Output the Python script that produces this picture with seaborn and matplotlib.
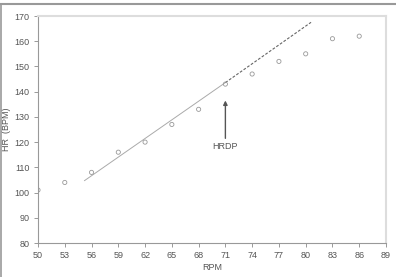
import matplotlib
matplotlib.use("Agg")
import matplotlib.pyplot as plt
import seaborn as sns
import numpy as np
import pandas as pd
from matplotlib.lines import Line2D

sns.set_style("white")
plt.rcParams['font.family'] = ['Liberation Sans', 'DejaVu Sans']

rpm = [50, 53, 56, 59, 62, 65, 68, 71, 74, 77, 80, 83, 86]
hr = [101, 104, 108, 116, 120, 127, 133, 143, 147, 152, 155, 161, 162]
fit_solid_x = [55.2, 71.0]
fit_solid_y = [104.7, 143.6]
fit_dash_x = [71.0, 80.6]
fit_dash_y = [143.6, 167.5]
x_ticks = [50, 53, 56, 59, 62, 65, 68, 71, 74, 77, 80, 83, 86, 89]
y_ticks = [80, 90, 100, 110, 120, 130, 140, 150, 160, 170]

df = pd.DataFrame({"RPM": rpm, "HR": hr})

fig = plt.figure(figsize=(3.96, 2.77), dpi=100)
ax = fig.add_axes([38/396, 1-243/277, 348/396, 227/277])

sns.scatterplot(data=df, x="RPM", y="HR", ax=ax, marker="o", s=9,
                facecolor="none", edgecolor="#999999", linewidth=0.6, zorder=3)
sns.lineplot(x=fit_solid_x, y=fit_solid_y, ax=ax, color="#aaaaaa", linewidth=0.7)
sns.lineplot(x=fit_dash_x, y=fit_dash_y, ax=ax, color="#666666", linewidth=0.8,
             linestyle=(0, (2.5, 1.5)))

ax.annotate("", xy=(71, 136.5), xytext=(71, 121.5),
            arrowprops=dict(arrowstyle="-|>", color="#555555", lw=1.0,
                            mutation_scale=6, shrinkA=0, shrinkB=0))
ax.text(71, 118.2, "HRDP", ha="center", va="center", fontsize=6.5, color="#555555")

ax.set_xlim(50, 89)
ax.set_ylim(80, 170)
ax.set_xticks(x_ticks)
ax.set_yticks(y_ticks)
ax.set_xticklabels([str(v) for v in x_ticks])
ax.set_yticklabels([str(v) for v in y_ticks])
ax.tick_params(axis="both", labelsize=6.5, labelcolor="#555555", color="#999999",
               length=3, width=0.7, direction="out", pad=3)
ax.tick_params(bottom=True, left=True)

for side in ["left", "bottom"]:
    ax.spines[side].set_color("#999999")
    ax.spines[side].set_linewidth(0.8)
for side in ["top", "right"]:
    ax.spines[side].set_color("#dddddd")
    ax.spines[side].set_linewidth(1.5)

ax.set_xlabel("RPM", fontsize=6.5, color="#555555", labelpad=2)
ax.set_ylabel("HR  (BPM)", fontsize=6.5, color="#555555")
ax.yaxis.set_label_coords(-0.077, 0.5)

# outer frame (top and left visible)
fig.add_artist(Line2D([0, 1], [1-3.5/277, 1-3.5/277], transform=fig.transFigure,
                      color="#999999", linewidth=1.5))
fig.add_artist(Line2D([1.2/396, 1.2/396], [0, 1-3.5/277], transform=fig.transFigure,
                      color="#999999", linewidth=1.2))

fig.savefig("out.png", dpi=100)
